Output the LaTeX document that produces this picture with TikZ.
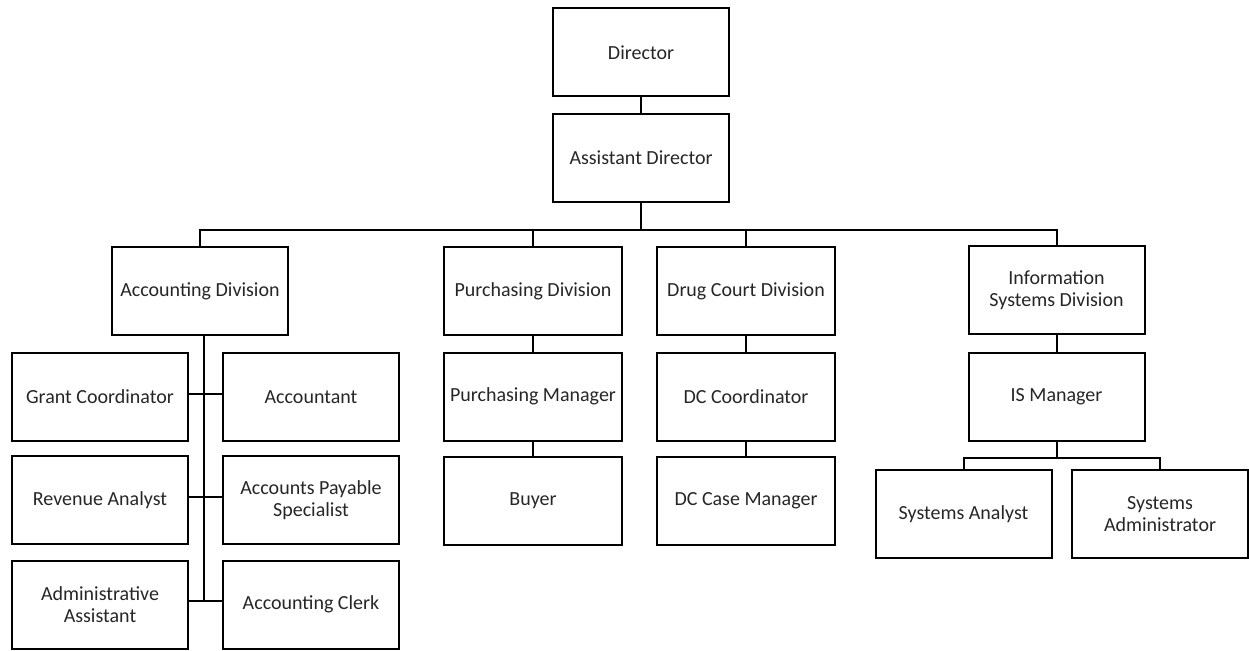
\documentclass[tikz,border=0pt]{standalone}
\usepackage{fontspec}
\setmainfont{Carlito}
\usepackage{tikz}
\usetikzlibrary{positioning,calc}
\definecolor{ink}{HTML}{000000}
\definecolor{txt}{HTML}{262626}
\begin{document}
\begin{tikzpicture}[x=1pt, y=-1pt, font=\fontsize{20}{22}\selectfont,
  post/.style={draw=ink, text=txt, line width=2pt, minimum width=176pt, minimum height=88pt, inner sep=2pt, align=center},
  link/.style={draw=ink, line width=2pt}]
\useasboundingbox (0,0) rectangle (1249,650);
\node[post] (dir) at (641,52.5) {Director};
\node[post] (adir) at (641,158) {Assistant Director};
\node[post] (acc) at (200,291) {Accounting Division};
\node[post, minimum width=178pt] (pur) at (533,291) {Purchasing Division};
\node[post, minimum width=178pt] (drug) at (746,291) {Drug Court Division};
\node[post] (isd) at (1056.5,290) {Information\\Systems Division};
\node[post] (gc) at (100,397) {Grant Coordinator};
\node[post] (acct) at (311,397) {Accountant};
\node[post] (rev) at (100,500) {Revenue Analyst};
\node[post] (aps) at (311,500) {Accounts Payable\\Specialist};
\node[post] (adm) at (100,604.5) {Administrative\\Assistant};
\node[post] (clerk) at (311,604.5) {Accounting Clerk};
\node[post, minimum width=178pt] (pm) at (533,396.5) {Purchasing Manager};
\node[post, minimum width=178pt] (buyer) at (533,501) {Buyer};
\node[post, minimum width=178pt] (dcc) at (746,396.5) {DC Coordinator};
\node[post, minimum width=178pt] (dccm) at (746,501) {DC Case Manager};
\node[post] (ism) at (1056.5,396.5) {IS Manager};
\node[post] (sa) at (963.5,514) {Systems Analyst};
\node[post] (sadm) at (1160,514) {Systems\\Administrator};
\draw[link] (dir.south) -- (adir.north);
\draw[link, line width=2.6pt] (adir.south) -- ++(0,27) coordinate (bus);
\draw[link] (acc.north) |- (bus) -| (isd.north);
\draw[link] (pur.north) -- (pur.north |- bus);
\draw[link] (drug.north) -- (drug.north |- bus);
\draw[link] ($(acc.south)+(4,0)$) -- ($(acc.south |- clerk.west)+(4,-4)$);
\draw[link] ($(gc.east)+(0,-3)$) -- ($(acct.west)+(0,-3)$);
\draw[link] ($(rev.east)+(0,-3)$) -- ($(aps.west)+(0,-3)$);
\draw[link] ($(adm.east)+(0,-4)$) -- ($(clerk.west)+(0,-4)$);
\draw[link] (pur.south) -- (pm.north);
\draw[link] (pm.south) -- (buyer.north);
\draw[link] (drug.south) -- (dcc.north);
\draw[link] (dcc.south) -- (dccm.north);
\draw[link] (isd.south) -- (ism.north);
\draw[link] (ism.south) -- ++(0,16) coordinate (isbus);
\draw[link] (sa.north) |- (isbus) -| (sadm.north);
\end{tikzpicture}
\end{document}
